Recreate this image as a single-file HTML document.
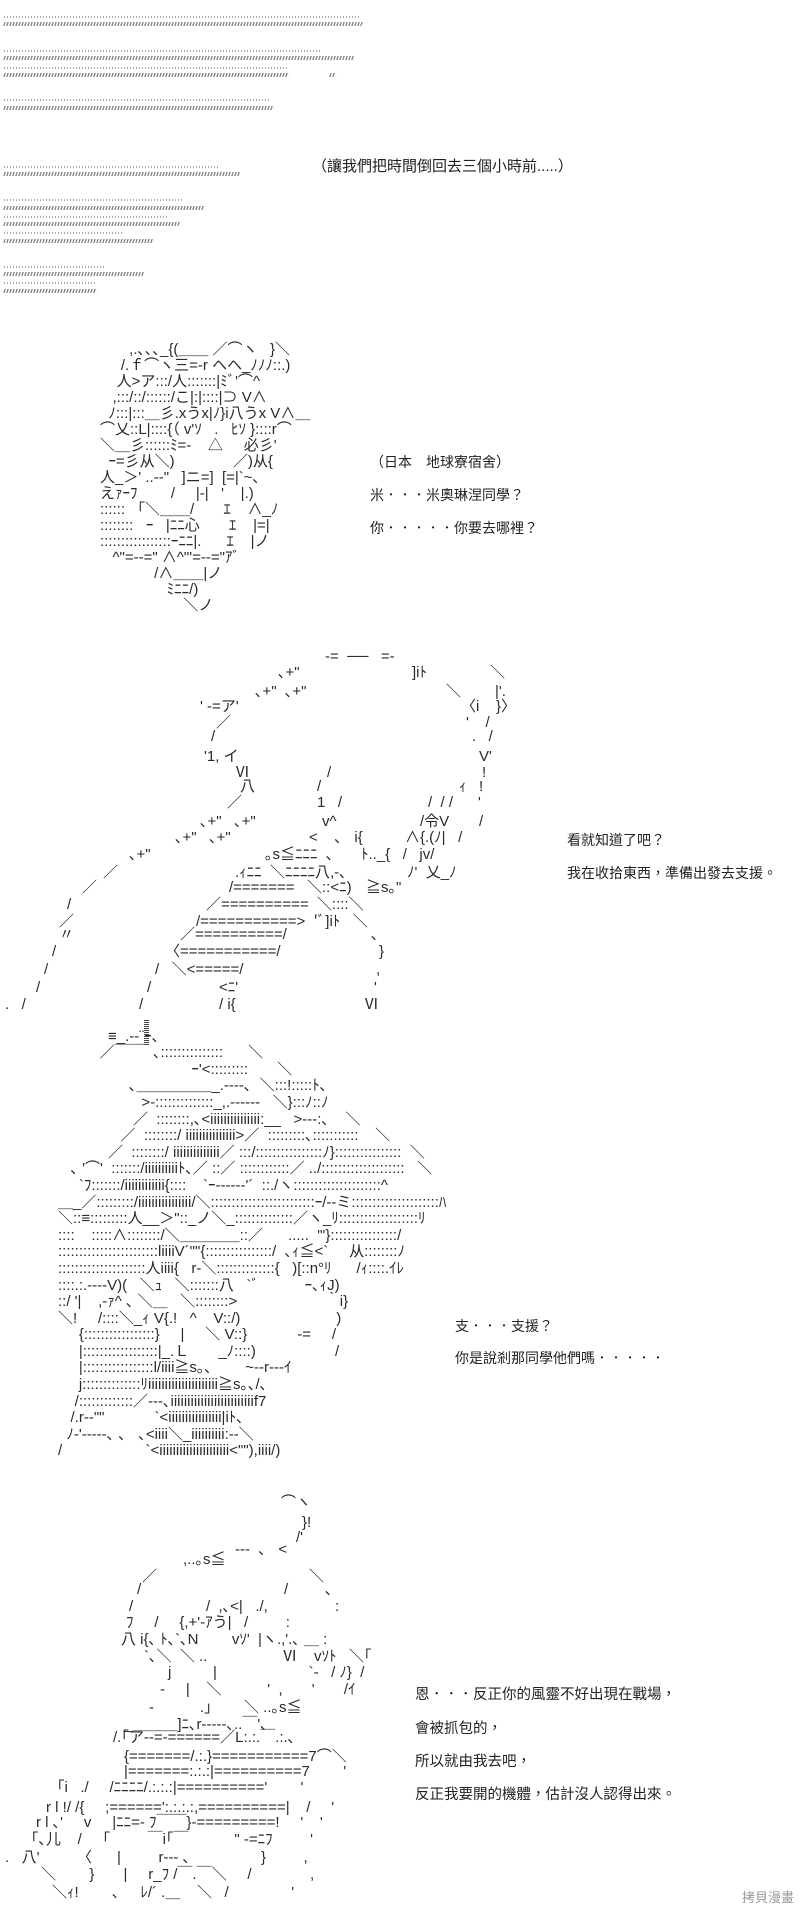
<!DOCTYPE html>
<html><head><meta charset="utf-8">
<style>
html,body{margin:0;padding:0;background:#fff;}
#c{position:relative;width:800px;height:1914px;overflow:hidden;background:#fff;}
.a{position:absolute;white-space:pre;font-family:"Liberation Sans","Noto Sans CJK JP",sans-serif;font-size:15px;line-height:16px;color:#2a2a2a;}
.t{position:absolute;white-space:pre;font-family:"Liberation Sans","Noto Sans CJK TC",sans-serif;font-size:14px;line-height:16px;color:#222;}
.d1{position:absolute;left:4px;height:2px;background:repeating-linear-gradient(90deg,#aaa 0 1px,transparent 1px 3px);}
.d2{position:absolute;left:4px;height:4px;background:repeating-linear-gradient(90deg,#555 0 1px,transparent 1px 3px);transform:skewX(-20deg);}
</style></head><body><div id="c">

<!-- top dotted rows -->
<div class="d1" style="top:16px;width:356px"></div><div class="d2" style="top:22px;width:358px"></div>
<div class="d1" style="top:50px;width:318px"></div><div class="d2" style="top:56px;width:350px"></div>
<div class="d1" style="top:67px;width:285px"></div><div class="d2" style="top:73px;width:285px"></div><div class="d2" style="top:73px;left:330px;width:6px"></div>
<div class="d1" style="top:99px;width:265px"></div><div class="d2" style="top:106px;width:270px"></div>
<div class="d1" style="top:166px;width:215px"></div><div class="d2" style="top:172px;width:236px"></div>
<div class="d1" style="top:199px;width:178px"></div><div class="d2" style="top:206px;width:200px"></div>
<div class="d1" style="top:216px;width:165px"></div><div class="d2" style="top:222px;width:175px"></div>
<div class="d1" style="top:232px;width:120px"></div><div class="d2" style="top:239px;width:150px"></div>
<div class="d1" style="top:266px;width:100px"></div><div class="d2" style="top:272px;width:140px"></div>
<div class="d1" style="top:282px;width:93px"></div><div class="d2" style="top:289px;width:93px"></div>

<div class="t" style="left:312px;top:159px;font-size:15px">（讓我們把時間倒回去三個小時前.....）</div>

<!-- panel 1 -->
<div class="a" style="left:100px;top:342px">       ,.､､､_{(＿＿ ／⌒ヽ   }＼
     /.ｆ⌒ヽ三=-r ヘヘ_ﾉﾉﾉ::.)
    人&gt;ア:::/人:::::::|ﾐﾞ'⌒^
   ,:::/::/::::::/こ|:|::::|⊃ V∧
  ﾉ:::|:::＿彡.xうx|ﾉ}i八うx V∧＿
⌒乂::L|::::{（ v'ｿ   .   ﾋｿ }::::r⌒
＼＿彡::::::ﾐ=-    △     必彡'
  ｰ=彡从＼)              ／)从{
人_＞' ..-‐"   ]ニ=]  [=|`~､
えｧｰﾌ        /     |‐|   '    |.)
::::::   ｢＼＿＿/       ｴ    ∧_ﾉ
::::::::   ｰ   |ﾆﾆ心       ｴ    |=|
:::::::::::::::::ｰﾆﾆ|.      ｴ    |ノ
   ^"=-‐=" ∧^"'=‐‐="ｱﾞ
             /∧＿＿|ノ
                ﾐﾆﾆ/)
                    ＼ノ</div>
<div class="t" style="left:370px;top:454px">（日本　地球寮宿舍）</div>
<div class="t" style="left:370px;top:487px">米．．．米奧琳涅同學？</div>
<div class="t" style="left:370px;top:520px">你．．．．．你要去哪裡？</div>

<!-- panel 2 -->
<div class="a" style="left:325px;top:649px">-=  ──   =-</div>
<div class="a" style="left:278px;top:665px">､+"</div><div class="a" style="left:412px;top:665px">]iﾄ</div><div class="a" style="left:490px;top:665px">＼</div>
<div class="a" style="left:255px;top:684px">､+"  ､+"</div><div class="a" style="left:446px;top:684px">＼</div><div class="a" style="left:495px;top:684px">|'.</div>
<div class="a" style="left:200px;top:699px">' -=ア'</div><div class="a" style="left:461px;top:699px">〈i    }〉</div>
<div class="a" style="left:216px;top:715px">／</div><div class="a" style="left:466px;top:715px">'    /</div>
<div class="a" style="left:211px;top:729px">/</div><div class="a" style="left:472px;top:729px">.   /</div>
<div class="a" style="left:204px;top:749px">'1, イ</div><div class="a" style="left:479px;top:749px">V'</div>
<div class="a" style="left:235px;top:765px">Ⅵ</div><div class="a" style="left:327px;top:765px">/</div><div class="a" style="left:482px;top:765px">!</div>
<div class="a" style="left:240px;top:779px">八</div><div class="a" style="left:317px;top:779px">/</div><div class="a" style="left:459px;top:779px">ｨ   !</div>
<div class="a" style="left:227px;top:795px">／</div><div class="a" style="left:317px;top:795px">1   /</div><div class="a" style="left:428px;top:795px">/  / /      '</div>
<div class="a" style="left:200px;top:814px">､+"   ､+"</div><div class="a" style="left:322px;top:814px">v^</div><div class="a" style="left:420px;top:814px">/令V</div><div class="a" style="left:479px;top:814px">/</div>
<div class="a" style="left:175px;top:830px">､+"   ､+"</div><div class="a" style="left:309px;top:830px">&lt;    ､   i{</div><div class="a" style="left:405px;top:830px">∧{.(ﾉ|   /</div>
<div class="a" style="left:129px;top:847px">､+"</div><div class="a" style="left:265px;top:847px">｡s≦ﾆﾆﾆ  ､</div><div class="a" style="left:361px;top:847px">ﾄ.._{   /   jv/</div>
<div class="a" style="left:103px;top:865px">／</div><div class="a" style="left:235px;top:865px">.ｨﾆﾆ  ＼ﾆﾆﾆﾆ八,-､</div><div class="a" style="left:407px;top:865px">ﾉ'  乂_ﾉ</div>
<div class="a" style="left:82px;top:880px">／</div><div class="a" style="left:229px;top:880px">/=======   ＼::&lt;ﾆ)</div><div class="a" style="left:366px;top:880px">≧s｡"</div>
<div class="a" style="left:67px;top:897px">/</div><div class="a" style="left:206px;top:897px">／==========  ＼::::＼</div>
<div class="a" style="left:59px;top:914px">／</div><div class="a" style="left:196px;top:914px">/===========&gt;  'ﾞ]iﾄ   ＼</div>
<div class="a" style="left:59px;top:927px">〃</div><div class="a" style="left:180px;top:927px">／==========/</div><div class="a" style="left:371px;top:927px">､</div>
<div class="a" style="left:52px;top:944px">/</div><div class="a" style="left:165px;top:944px">〈===========/</div><div class="a" style="left:379px;top:944px">}</div>
<div class="a" style="left:44px;top:962px">/</div><div class="a" style="left:155px;top:962px">/   ＼&lt;=====/</div><div class="a" style="left:376px;top:962px">,</div>
<div class="a" style="left:36px;top:980px">/</div><div class="a" style="left:147px;top:980px">/</div><div class="a" style="left:219px;top:980px">&lt;ﾆ'</div><div class="a" style="left:374px;top:980px">'</div>
<div class="a" style="left:5px;top:997px">.   /</div><div class="a" style="left:139px;top:997px">/</div><div class="a" style="left:219px;top:997px">/ i{</div><div class="a" style="left:364px;top:997px">Ⅵ</div>
<div class="t" style="left:567px;top:832px">看就知道了吧？</div>
<div class="t" style="left:567px;top:865px">我在收拾東西，準備出發去支援。</div>

<!-- panel 3 -->
<div style="position:absolute;left:144px;top:1020px;width:5px;height:26px;background:repeating-linear-gradient(180deg,#444 0 1px,transparent 1px 2px)"></div>
<div class="a" style="left:58px;top:1012px;line-height:16.6px">                               
            ≡_.-‐¨ｰ､
          ／￣￣  ､:::::::::::::::      ＼
                                ｰ'&lt;:::::::::       ＼
                 ､＿＿＿＿＿_.-‐‐‐､  ＼:::!:::::ﾄ､
                    &gt;‐::::::::::::::_,.-‐‐‐‐-   ＼}:::ﾉ::ﾉ
                  ／  ::::::::,､&lt;iiiiiiiiiiiiiii:__   &gt;‐‐‐:､    ＼
               ／  ::::::::/ iiiiiiiiiiiiiii&gt;／  :::::::::､:::::::::::    ＼
            ／  ::::::::/ iiiiiiiiiiiiii／ :::/::::::::::::::::ﾉ}::::::::::::::::  ＼
   ､ '⌒'  :::::::/iiiiiiiiiiﾄ､／ ::／ ::::::::::::／ ../::::::::::::::::::::   ＼
     `ﾌ:::::::/iiiiiiiiiiii{::::    `ｰ-‐‐‐‐‐'´  ::./ヽ:::::::::::::::::::::^
＿_／:::::::::/iiiiiiiiiiiiiiii/＼:::::::::::::::::::::::::ｰ/‐‐ミ:::::::::::::::::::::ﾊ
＼::≡:::::::::人__＞"::_ノ＼_::::::::::::::／ヽ_ﾘ:::::::::::::::::::ﾘ
::::    :::::∧::::::::/＼＿＿＿＿::／      .....  "'}::::::::::::::::/
::::::::::::::::::::::::liiiiV´""{::::::::::::::::/  ､ｨ≦&lt;`     从::::::::ﾉ
:::::::::::::::::::::人iiii{   r‐＼::::::::::::::{   )[::n°ﾘ      /ｨ::::.ｲﾚ
::::.:.-‐‐‐V)(   ＼ｭ   ＼:::::::八   `ﾞ           ｰ､ｨJ)
::/ '|    ,-ｧ^ ､ ＼＿   ＼::::::::&gt;                     ｀i}
＼!     /::::＼_ｨ V{.!   ^    V::/)                       )
     {:::::::::::::::::}     |     ＼ V::}            -=     /
     |::::::::::::::::::|_.Ｌ       _ﾉ::::)                   /
     |:::::::::::::::::l/iiii≧s｡､        ~‐‐r‐‐‐ｲ
     j::::::::::::::ﾘiiiiiiiiiiiiiiiiiiiii≧s｡､/､
    /:::::::::::::／‐‐‐､iiiiiiiiiiiiiiiiiiiiiiiiif7
   /.r‐‐""            `&lt;iiiiiiiiiiiiiiii|iﾄ､
  ﾉ-'‐‐‐‐‐､ ､   ､&lt;iiii＼_iiiiiiiiii:‐‐＼
/                    `&lt;iiiiiiiiiiiiiiiiiiiii&lt;""),iiii/)</div>
<div class="t" style="left:455px;top:1318px">支．．．支援？</div>
<div class="t" style="left:455px;top:1350px">你是說剎那同學他們嗎．．．．．</div>

<!-- panel 4 -->
<div class="a" style="left:281px;top:1495px">⌒ヽ</div>
<div class="a" style="left:302px;top:1515px">}!</div>
<div class="a" style="left:296px;top:1530px">/'</div>
<div class="a" style="left:235px;top:1542px">‐‐‐  ､   &lt;</div>
<div class="a" style="left:183px;top:1552px">,..｡s≦</div>
<div class="a" style="left:142px;top:1569px">／</div><div class="a" style="left:309px;top:1569px">＼</div>
<div class="a" style="left:137px;top:1582px">/</div><div class="a" style="left:284px;top:1582px">/</div><div class="a" style="left:325px;top:1582px">､</div>
<div class="a" style="left:129px;top:1599px">/</div><div class="a" style="left:206px;top:1599px">/  ,､&lt;|   ./,</div><div class="a" style="left:335px;top:1599px">:</div>
<div class="a" style="left:126px;top:1615px">ﾌ     /     {,+'‐ｱう|   /         :</div>
<div class="a" style="left:121px;top:1632px">八 i{､ ﾄ､`､N        vｿ'  |ヽ.,'.､ ＿ :</div>
<div class="a" style="left:144px;top:1649px">`､＼  ＼ ..                  Ⅵ    vｿﾄ   ＼｢</div>
<div class="a" style="left:168px;top:1665px">j          |                      `‐   / ﾉ}  /</div>
<div class="a" style="left:160px;top:1682px">-     |    ＼           '  ,       '       /ｲ</div>
<div class="a" style="left:149px;top:1700px">-           .」      ＼ ..｡s≦</div>
<div class="a" style="left:124px;top:1717px">_＿＿＿]ﾆ､r‐‐‐‐-､..￣'､</div>
<div class="a" style="left:113px;top:1730px">/.｢ア‐‐=‐======／L:.:.￣.:.､</div>
<div class="a" style="left:124px;top:1749px">{=======/.:.}===========7⌒＼</div>
<div class="a" style="left:124px;top:1764px">|=======:.:.:|==========7        '</div>
<div class="a" style="left:57px;top:1780px">｢i   ./     /ﾆﾆﾆﾆ/.:.:.:|=========='        '</div>
<div class="a" style="left:46px;top:1800px">r l !/ /{     ;======':.:.:.:,==========|    /     '</div>
<div class="a" style="left:36px;top:1815px">r l ､'     v     |ﾆﾆ=- ﾌ￣￣}-=========!     '    '</div>
<div class="a" style="left:31px;top:1832px">｢､儿    /     ｢         ￣i｢￣           " -=ﾆﾌ         '</div>
<div class="a" style="left:5px;top:1850px">.   八'         〈      |         r‐‐‐ ､                 }         ,</div>
<div class="a" style="left:41px;top:1867px">＼        }       |     r_ﾌ /￣.￣＼     /              ,</div>
<div class="a" style="left:52px;top:1885px">＼ｨ!        ､     ﾚ/´ .＿    ＼   /               '</div>
<div class="t" style="left:415px;top:1687px;font-size:14.5px">恩．．．反正你的風靈不好出現在戰場，</div>
<div class="t" style="left:415px;top:1721px;font-size:14.5px">會被抓包的，</div>
<div class="t" style="left:415px;top:1754px;font-size:14.5px">所以就由我去吧，</div>
<div class="t" style="left:415px;top:1787px;font-size:14.5px">反正我要開的機體，估計沒人認得出來。</div>
<div class="t" style="left:742px;top:1890px;font-size:13px;color:#999">拷貝漫畫</div>
</div></body></html>
